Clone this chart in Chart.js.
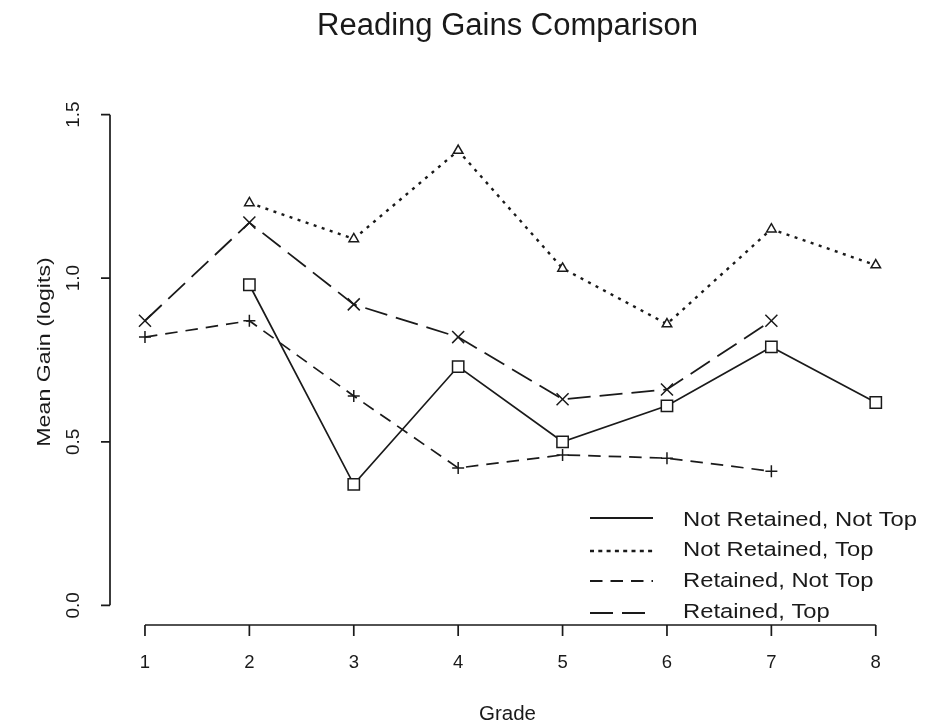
<!DOCTYPE html>
<html>
<head>
<meta charset="utf-8">
<script src="https://cdn.jsdelivr.net/npm/chart.js@4"></script>
<style>
  html, body { margin: 0; padding: 0; background: #fff; }
  #wrap { width: 925px; height: 727px; }
</style>
</head>
<body>
<div id="wrap"><canvas id="c" width="925" height="727"></canvas></div>
<script>
const titleText = "Reading Gains Comparison";
const xTitle = "Grade";
const yTitle = "Mean Gain (logits)";
const grades = [1, 2, 3, 4, 5, 6, 7, 8];
const xTickLabels = ["1", "2", "3", "4", "5", "6", "7", "8"];
const yTickValues = [0, 0.5, 1.0, 1.5];
const yTickLabels = ["0.0", "0.5", "1.0", "1.5"];
const seriesNames = ["Not Retained, Not Top", "Not Retained, Top", "Retained, Not Top", "Retained, Top"];
const notRetNotTop = [null, 0.98, 0.37, 0.73, 0.50, 0.61, 0.79, 0.62];
const notRetTop    = [null, 1.23, 1.12, 1.39, 1.03, 0.86, 1.15, 1.04];
const retNotTop    = [0.82, 0.87, 0.64, 0.42, 0.46, 0.45, 0.41, null];
const retTop       = [0.87, 1.17, 0.92, 0.82, 0.63, 0.66, 0.87, null];

const FONT = "'Liberation Sans', Arial, Helvetica, sans-serif";
const INK = "#1a1a1a";
const dashes = [[], [3, 5.5], [12.5, 8], [23, 9]];
const widths = [1.7, 2.4, 1.7, 1.8];
const styles = ['rect', 'triangle', 'cross', 'crossRot'];
const radii = [8, 5.5, 6, 8.5];
const allSeries = [notRetNotTop, notRetTop, retNotTop, retTop];

const toXY = vals => grades.map((g, i) => ({ x: g, y: vals[i] }));

const datasets = allSeries.map((vals, k) => ({
  label: seriesNames[k],
  data: toXY(vals),
  borderColor: INK,
  borderWidth: widths[k],
  borderDash: dashes[k],
  borderCapStyle: 'butt',
  pointStyle: styles[k],
  pointRadius: radii[k],
  pointBorderWidth: 1.5,
  pointBorderColor: INK,
  pointBackgroundColor: '#fff',
  fill: false,
  tension: 0,
  spanGaps: false
}));

function drawText(ctx, s, x, y, size, sx, rot, align) {
  ctx.save();
  ctx.translate(x, y);
  if (rot) ctx.rotate(rot);
  ctx.scale(sx, 1);
  ctx.font = size + "px " + FONT;
  ctx.textAlign = align || 'center';
  ctx.textBaseline = 'middle';
  ctx.fillText(s, 0, 0);
  ctx.restore();
}

const axesPlugin = {
  id: 'rAxes',
  afterDraw(chart) {
    const ctx = chart.ctx;
    const xs = chart.scales.x, ys = chart.scales.y;
    const area = chart.chartArea;
    ctx.save();
    ctx.strokeStyle = INK;
    ctx.fillStyle = INK;
    ctx.lineWidth = 1.7;
    ctx.setLineDash([]);
    // x axis
    const xb = area.bottom;
    ctx.beginPath();
    ctx.moveTo(xs.getPixelForValue(grades[0]), xb);
    ctx.lineTo(xs.getPixelForValue(grades[grades.length - 1]), xb);
    grades.forEach(g => {
      const px = xs.getPixelForValue(g);
      ctx.moveTo(px, xb);
      ctx.lineTo(px, xb + 11);
    });
    ctx.stroke();
    grades.forEach((g, i) => {
      drawText(ctx, xTickLabels[i], xs.getPixelForValue(g), xb + 38, 18.5, 1, 0);
    });
    // y axis
    const yl = area.left;
    ctx.beginPath();
    ctx.moveTo(yl, ys.getPixelForValue(yTickValues[0]));
    ctx.lineTo(yl, ys.getPixelForValue(yTickValues[yTickValues.length - 1]));
    yTickValues.forEach(v => {
      const py = ys.getPixelForValue(v);
      ctx.moveTo(yl, py);
      ctx.lineTo(yl - 9, py);
    });
    ctx.stroke();
    yTickValues.forEach((v, i) => {
      drawText(ctx, yTickLabels[i], yl - 36, ys.getPixelForValue(v), 18, 1.05, -Math.PI / 2);
    });
    // axis titles
    drawText(ctx, xTitle, (area.left + area.right) / 2, 714.5, 20.5, 1, 0);
    drawText(ctx, yTitle, 44.5, 352, 19, 1.22, -Math.PI / 2);
    // title
    drawText(ctx, titleText, 507.5, 26, 31, 1, 0);
    // legend
    const lx0 = 590, lx1 = 653, tx = 683;
    const lineY = [518, 551, 581, 613];
    const textY = [520, 550.5, 581, 612];
    seriesNames.forEach((name, k) => {
      ctx.save();
      ctx.lineWidth = k === 1 ? 2.6 : 1.9;
      ctx.lineCap = 'butt';
      ctx.setLineDash(k === 1 ? [4, 4.3] : dashes[k]);
      ctx.beginPath();
      ctx.moveTo(lx0, lineY[k]);
      ctx.lineTo(lx1, lineY[k]);
      ctx.stroke();
      ctx.restore();
      drawText(ctx, name, tx, textY[k], 20.5, 1.16, 0, 'left');
    });
    ctx.restore();
  }
};

new Chart(document.getElementById('c'), {
  type: 'line',
  data: { datasets },
  options: {
    responsive: false,
    animation: false,
    events: [],
    layout: { autoPadding: false, padding: { left: 110, right: 20, top: 95, bottom: 102 } },
    plugins: { legend: { display: false }, title: { display: false }, tooltip: { enabled: false } },
    scales: {
      x: { type: 'linear', min: 0.665, max: 8.28, display: false },
      y: { type: 'linear', min: -0.06, max: 1.56, display: false }
    }
  },
  plugins: [axesPlugin]
});
</script>
</body>
</html>
